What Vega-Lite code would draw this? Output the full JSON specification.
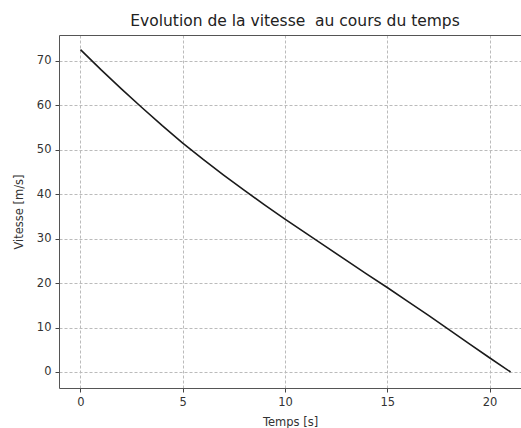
{
  "$schema": "https://vega.github.io/schema/vega-lite/v6.json",
  "autosize": {"type": "none"},
  "padding": {"left": 59, "top": 35, "right": 0, "bottom": 40},
  "width": 462,
  "height": 353,
  "background": "white",
  "title": {"text": "Evolution de la vitesse \u00a0au cours du temps", "font": "DejaVu Sans", "fontSize": 15.5, "fontWeight": "normal", "color": "#222222", "anchor": "middle", "dx": 5, "offset": 6},
  "config": {
    "view": {"stroke": null},
    "axis": {"labelFont": "DejaVu Sans", "titleFont": "DejaVu Sans", "labelFontSize": 11.5, "titleFontSize": 11.5, "titleFontWeight": "normal", "labelColor": "#333333", "titleColor": "#333333", "tickColor": "#444444", "domainColor": "#555555", "gridColor": "#bbbbbb", "gridDash": [3, 2], "gridWidth": 1, "tickSize": 4, "labelPadding": 4}
  },
  "data": {"values": [
    {"t": 0, "v": 72.5}, {"t": 1, "v": 68.0}, {"t": 2, "v": 63.7}, {"t": 3, "v": 59.5}, {"t": 4, "v": 55.4},
    {"t": 5, "v": 51.5}, {"t": 6, "v": 47.8}, {"t": 7, "v": 44.3}, {"t": 8, "v": 40.9}, {"t": 9, "v": 37.6},
    {"t": 10, "v": 34.4}, {"t": 11, "v": 31.3}, {"t": 12, "v": 28.2}, {"t": 13, "v": 25.1}, {"t": 14, "v": 22.0},
    {"t": 15, "v": 19.0}, {"t": 16, "v": 15.9}, {"t": 17, "v": 12.8}, {"t": 18, "v": 9.6}, {"t": 19, "v": 6.4},
    {"t": 20, "v": 3.2}, {"t": 21.03, "v": 0}
  ]},
  "layer": [
    {
      "mark": {"type": "line", "color": "#1a1a1a", "strokeWidth": 1.6},
      "encoding": {
        "x": {"field": "t", "type": "quantitative", "scale": {"domain": [-1.05, 21.54], "nice": false, "zero": false}, "axis": {"values": [0, 5, 10, 15, 20], "title": "Temps [s]", "titlePadding": 9, "orient": "bottom"}},
        "y": {"field": "v", "type": "quantitative", "scale": {"domain": [-3.6, 75.8], "nice": false, "zero": false}, "axis": {"values": [0, 10, 20, 30, 40, 50, 60, 70], "title": "Vitesse [m/s]", "titlePadding": 12}}
      }
    },
    {
      "mark": {"type": "line", "opacity": 0},
      "encoding": {
        "x": {"field": "t", "type": "quantitative", "scale": {"domain": [-1.05, 21.54], "nice": false, "zero": false}, "axis": {"orient": "top", "labels": false, "ticks": false, "grid": false, "title": null, "domain": true}}
      }
    }
  ],
  "resolve": {"axis": {"x": "independent"}}
}
